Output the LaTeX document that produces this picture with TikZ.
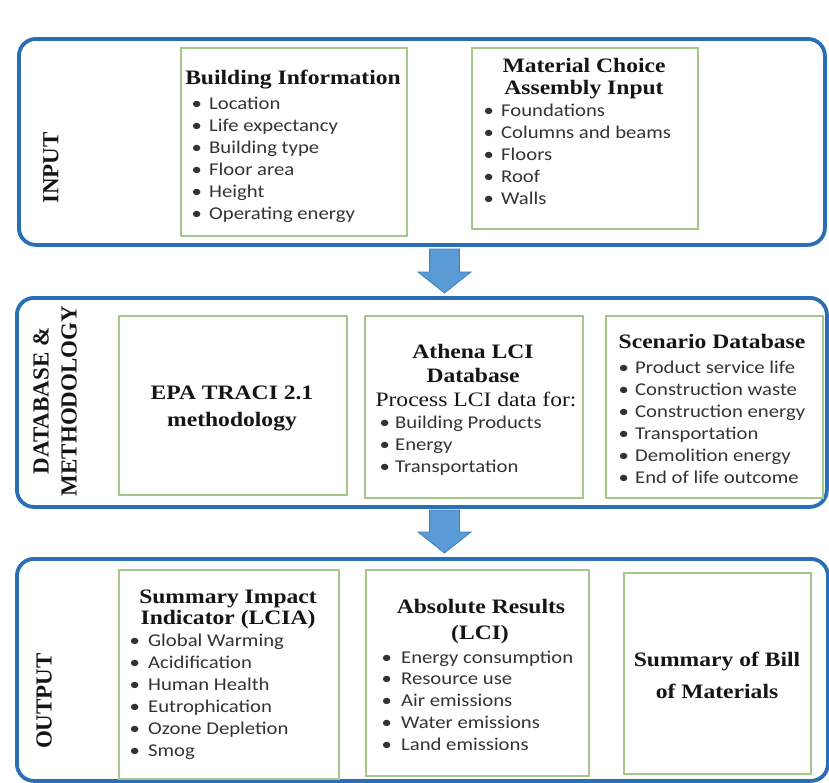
\documentclass[tikz,border=0pt]{standalone}
\usepackage{fontspec}
\setmainfont{Liberation Serif}
\newfontfamily\serifS{Liberation Serif}[FakeStretch=1.15]
\newfontfamily\sansS{Carlito}[FakeStretch=1.15]
\definecolor{panelblue}{HTML}{2A6EB5}
\definecolor{boxgreen}{HTML}{A6C78C}
\definecolor{arrowfill}{HTML}{5B9BD5}
\definecolor{arrowline}{HTML}{3F7EC0}
\definecolor{headtext}{HTML}{151515}
\definecolor{itemtext}{HTML}{333333}
\tikzset{
  panel/.style={draw=panelblue, line width=3.8pt, rounded corners=17pt, anchor=north west, inner sep=0pt},
  gbox/.style={draw=boxgreen, line width=1.6pt, anchor=north west, inner sep=0pt},
  head/.style={font=\serifS\bfseries\fontsize{20.5}{22}\selectfont, text=headtext, inner sep=0pt, text height=14pt, text depth=5pt, yshift=-2pt},
  plain/.style={font=\serifS\fontsize{20.5}{22}\selectfont, text=headtext, inner sep=0pt, text height=14pt, text depth=5pt, yshift=-2pt},
  item/.style={font=\sansS\fontsize{18}{22}\selectfont, text=itemtext, inner sep=0pt, anchor=west, text height=12pt, text depth=4pt, yshift=-2pt},
  lab/.style={font=\bfseries\fontsize{23}{28}\selectfont, text=headtext, inner sep=0pt, rotate=90, align=center},
  bigarrow/.style={fill=arrowfill, draw=arrowline, line width=0.8pt, line join=miter}
}
\begin{document}
\begin{tikzpicture}[x=1pt, y=-1pt]
\useasboundingbox (0,0) rectangle (829,782);
% panels
\node[panel, minimum width=806pt, minimum height=206pt] (p1) at (17,37) {};
\node[panel, minimum width=810pt, minimum height=209pt] (p2) at (15,296) {};
\node[panel, minimum width=811pt, minimum height=222pt] (p3) at (15,557) {};
% side labels
\node[lab] (lin) at (51,168) {INPUT};
\node[lab] (ldb) at (55,401) {DATABASE \&\\METHODOLOGY};
\node[lab] (lout) at (44,701) {OUTPUT};
% arrows
\coordinate (a1) at (444.5,249);
\coordinate (a2) at (444.5,510);
\draw[bigarrow] (a1) ++(-15,0) -- ++(30,0) -- ++(0,23) -- ++(11.5,0) -- ++(-26.5,21) -- ++(-26.5,-21) -- ++(11.5,0) -- cycle;
\draw[bigarrow] (a2) ++(-15,0) -- ++(30,0) -- ++(0,22) -- ++(11.5,0) -- ++(-26.5,21) -- ++(-26.5,-21) -- ++(11.5,0) -- cycle;
% ---------- INPUT ----------
\node[gbox, minimum width=226pt, minimum height=188pt] (bi) at (180,47) {};
\node[head] (bih) at (293,78) {Building Information};
\foreach \t [count=\i from 0] in {Location,Life expectancy,Building type,Floor area,Height,Operating energy}
  \node[item] (bi\i) at (191.5,{103+22*\i}) {\makebox[17.5pt][l]{\textbullet}\t};
\node[gbox, minimum width=226pt, minimum height=181pt] (mc) at (471,47) {};
\node[head] (mch1) at (584,66) {Material Choice};
\node[head] (mch2) at (584,88) {Assembly Input};
\foreach \t [count=\i from 0] in {Foundations,Columns and beams,Floors,Roof,Walls}
  \node[item] (mc\i) at (483.5,{110+22*\i}) {\makebox[17.5pt][l]{\textbullet}\t};
% ---------- DATABASE ----------
\node[gbox, minimum width=228pt, minimum height=179pt] (epa) at (118,315) {};
\node[head] (epa1) at (232,393) {EPA TRACI 2.1};
\node[head] (epa2) at (232,420) {methodology};
\node[gbox, minimum width=218pt, minimum height=182pt] (ath) at (364,315) {};
\node[head] (ath1) at (473,352) {Athena LCI};
\node[head] (ath2) at (473,376) {Database};
\node[plain] (ath3) at (476,400) {Process LCI data for:};
\foreach \t [count=\i from 0] in {Building Products,Energy,Transportation}
  \node[item] (at\i) at (379.5,{422+22*\i}) {\makebox[15.5pt][l]{\textbullet}\t};
\node[gbox, minimum width=217pt, minimum height=182pt] (sc) at (605,315) {};
\node[head] (sch) at (712,342) {Scenario Database};
\foreach \t [count=\i from 0] in {Product service life,Construction waste,Construction energy,Transportation,Demolition energy,End of life outcome}
  \node[item] (sc\i) at (618.5,{367+22*\i}) {\makebox[16.5pt][l]{\textbullet}\t};
% ---------- OUTPUT ----------
\node[gbox, minimum width=220pt, minimum height=209pt] (si) at (118,569) {};
\node[head] (sih1) at (228,597) {Summary Impact};
\node[head] (sih2) at (228,618) {Indicator (LCIA)};
\foreach \t [count=\i from 0] in {Global Warming,Acidification,Human Health,Eutrophication,Ozone Depletion,Smog}
  \node[item] (si\i) at (129.5,{640+22*\i}) {\makebox[18.5pt][l]{\textbullet}\t};
\node[gbox, minimum width=223pt, minimum height=206pt] (ar) at (365,569) {};
\node[head] (arh1) at (481,607) {Absolute Results};
\node[head] (arh2) at (480,633) {(LCI)};
\foreach \t [count=\i from 0] in {Energy consumption,Resource use,Air emissions,Water emissions,Land emissions}
  \node[item] (ar\i) at (381.5,{657+21.75*\i}) {\makebox[19.5pt][l]{\textbullet}\t};
\node[gbox, minimum width=187pt, minimum height=201pt] (sb) at (623,572) {};
\node[head] (sb1) at (717,660) {Summary of Bill};
\node[head] (sb2) at (717,692) {of Materials};
\end{tikzpicture}
\end{document}
